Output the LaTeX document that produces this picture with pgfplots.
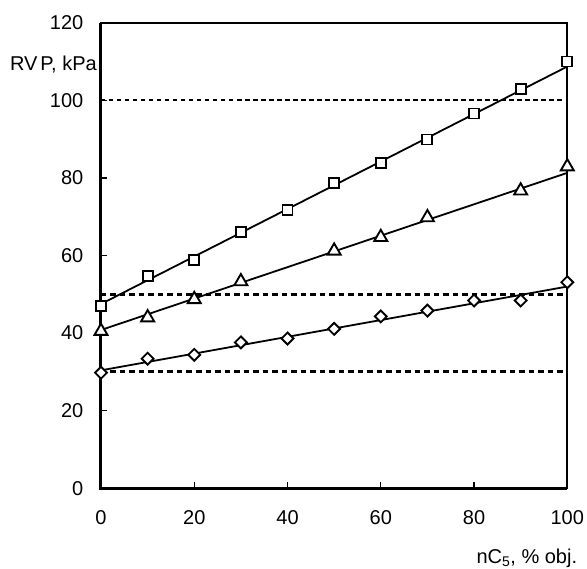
\documentclass[border=0pt]{standalone}
\usepackage{pgfplots}
\pgfplotsset{compat=1.18}
\usepackage{fontspec}
\setmainfont{Liberation Sans}
\begin{document}
\fontsize{20bp}{24bp}\selectfont
\begin{tikzpicture}
\begin{axis}[
  scale only axis,
  width=466.3bp, height=465.6bp,
  xmin=0, xmax=100, ymin=0, ymax=120,
  xtick={0,20,...,100}, ytick={0,20,...,120},
  tick align=inside,
  xtick pos=bottom, ytick pos=left,
  major tick length=6bp,
  tick style={line width=1.4bp, black},
  axis line style={line width=1.9bp},
  /pgf/number format/assume math mode=true,
  xticklabel style={inner sep=0pt, yshift=-22.5bp, font=\fontsize{20bp}{24bp}\selectfont},
  yticklabel style={inner sep=0pt, xshift=-17.5bp, font=\fontsize{20bp}{24bp}\selectfont},
  clip=false,
]
\coordinate (O) at (rel axis cs:0,0);
% reference levels
\addplot[line width=1.9bp, dash pattern=on 4.5bp off 3.5bp] coordinates {(0,100) (99,100)};
\addplot[line width=3bp, dash pattern=on 5.5bp off 4bp] coordinates {(0,50) (99,50)};
\addplot[line width=3bp, dash pattern=on 5.5bp off 4bp] coordinates {(0,30) (99,30)};
% fit lines
\addplot[line width=1.8bp] coordinates {(0,47.5) (100,108.7)};
\addplot[line width=1.8bp] coordinates {(0,40.8) (100,81.3)};
\addplot[line width=1.8bp] coordinates {(0,30.4) (100,52.0)};
% data points
\addplot[only marks, mark=square*, mark size=5bp, mark options={fill=white, draw=black, line width=1.9bp}]
 coordinates {(0,47.0)(10,54.7)(20,58.8)(30,66.1)(40,71.7)(50,78.6)(60,83.8)(70,89.9)(80,96.6)(90,102.8)(100,110.0)};
\addplot[only marks, mark=triangle*, mark size=7.5bp, mark options={fill=white, draw=black, line width=1.9bp}]
 coordinates {(0,40.5)(10,44.0)(20,48.7)(30,53.3)(50,61.2)(60,64.7)(70,69.8)(90,76.7)(100,82.9)};
\addplot[only marks, mark=square*, mark size=4.2bp, mark options={fill=white, draw=black, line width=1.9bp, rotate=45}]
 coordinates {(0,29.8)(10,33.4)(20,34.4)(30,37.6)(40,38.6)(50,41.1)(60,44.3)(70,45.8)(80,48.4)(90,48.4)(100,53.1)};
% thicker left and bottom axis lines
\draw[line width=3bp] (rel axis cs:0,1) -- (rel axis cs:0,0) -- (rel axis cs:1,0);
\node[anchor=base east, inner sep=0pt, xshift=-4bp] at (axis cs:0,107.8) {RV\kern3bp P, kPa};
\node[anchor=base east, inner sep=0pt, xshift=10bp, yshift=-75bp] at (rel axis cs:1,0) {nC\textsubscript{5}, \% obj.};
\end{axis}
\pgfresetboundingbox
\path ([shift={(-101bp,-80.7bp)}]O) rectangle ++(587bp,569bp);
\end{tikzpicture}
\end{document}
